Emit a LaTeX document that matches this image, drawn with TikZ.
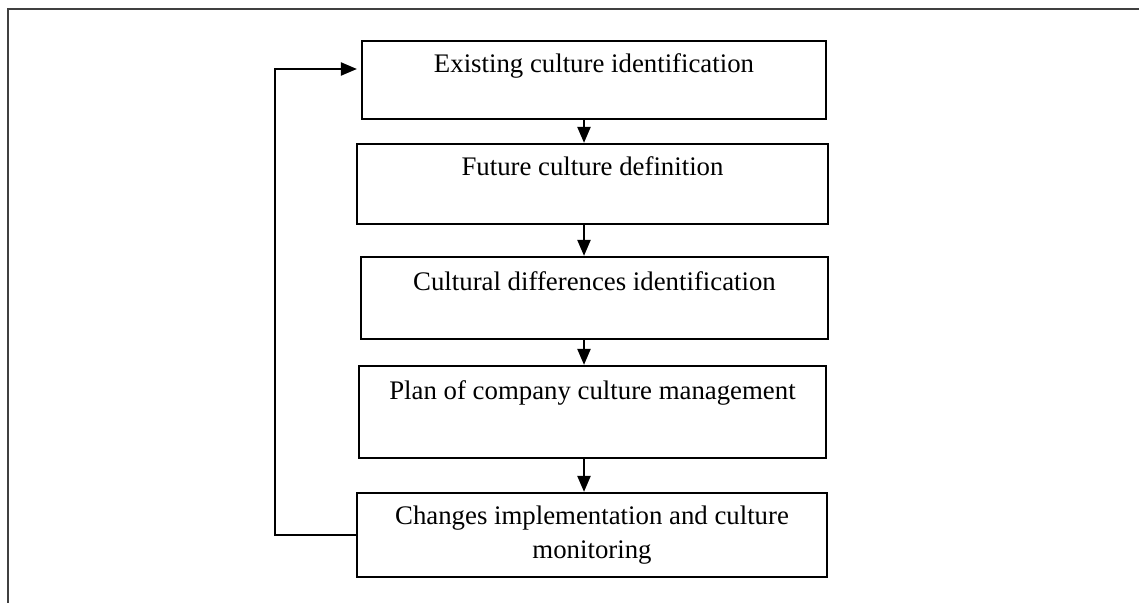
\documentclass[tikz,border=0pt]{standalone}
\usepackage{fontspec}
\setmainfont{Liberation Serif}
\usetikzlibrary{arrows.meta}
\tikzstyle{stage}=[draw=black,line width=1.1pt,inner sep=0pt]
\tikzstyle{stagetext}=[anchor=north,inner sep=0pt,align=center,font=\fontsize{13.4pt}{17pt}\selectfont]
\tikzstyle{arrow}=[-{Triangle[length=8pt,width=6.5pt]},line width=1.1pt]
\tikzstyle{frame}=[line width=1.3pt,draw=black!75]

\begin{document}
\begin{tikzpicture}[x=0.5pt,y=-0.5pt]
      \useasboundingbox (0,0) rectangle (1139,603);
      \draw[frame] (8,603) |- (1139,9);
      \node[stage,minimum width=232pt,minimum height=39pt] at (594,80) (b1) {};
      \node[stage,minimum width=235.5pt,minimum height=40pt] at (592.5,184) (b2) {};
      \node[stage,minimum width=233.5pt,minimum height=41pt] at (594.5,298) (b3) {};
      \node[stage,minimum width=233.5pt,minimum height=46pt] at (592.5,412) (b4) {};
      \node[stage,minimum width=235pt,minimum height=42pt] at (592,535) (b5) {};
      \node[stagetext] at ([yshift=-6.75pt]b1.north) (t1) {Existing culture identification};
      \node[stagetext] at ([yshift=-6.75pt]b2.north) (t2) {Future culture definition};
      \node[stagetext] at ([yshift=-7.5pt]b3.north) (t3) {Cultural differences identification};
      \node[stagetext] at ([yshift=-7.5pt]b4.north) (t4) {Plan of company culture management};
      \node[stagetext] at ([yshift=-7pt]b5.north) (t5) {Changes implementation and culture\\monitoring};
      \coordinate (ax) at (584,0);
      \coordinate (loop) at (275,69);
      \draw[arrow] (b1.south -| ax)--(b2.north -| ax);
      \draw[arrow] (b2.south -| ax)--(b3.north -| ax);
      \draw[arrow] (b3.south -| ax)--(b4.north -| ax);
      \draw[arrow] (b4.south -| ax)--(b5.north -| ax);
      \draw[arrow,shorten >=2pt] (b5.west) -| (loop)--(b1.west |- loop);
    \end{tikzpicture}
\end{document}
